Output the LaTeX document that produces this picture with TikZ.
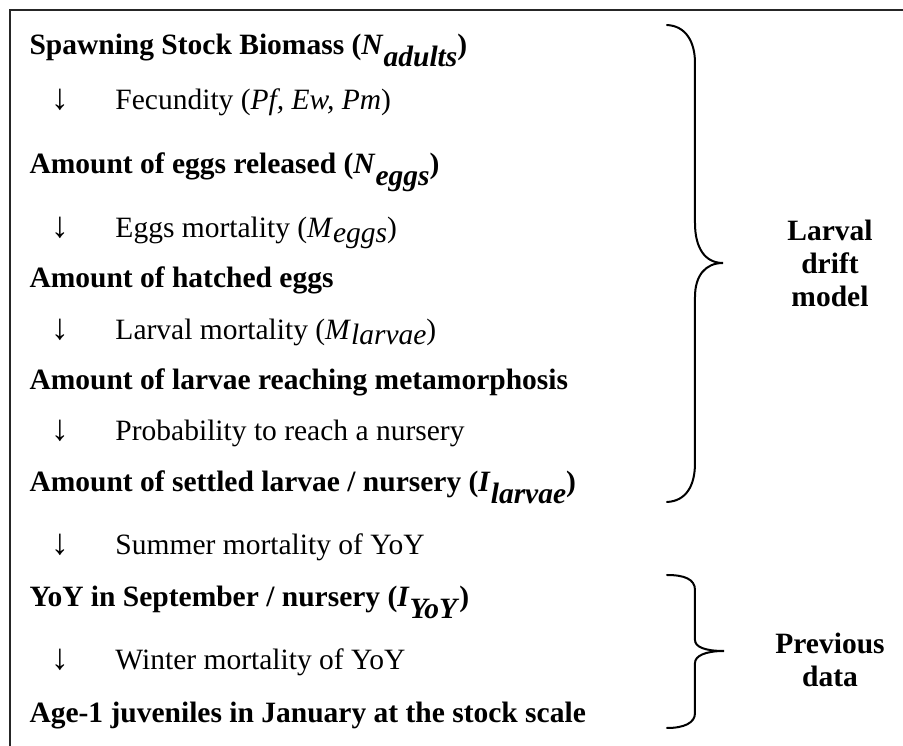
\documentclass[tikz,border=0pt]{standalone}
\usepackage{fontspec}
\setmainfont{Liberation Serif}
\newcommand{\sbold}[1]{\raisebox{-4.7pt}{\textit{#1}}}
\newcommand{\sreg}[1]{\raisebox{-2pt}{\textit{#1}}}

\begin{document}
\begin{tikzpicture}[x=0.4pt,y=-0.4pt,
    stage/.style={anchor=base west,inner sep=0pt,font=\fontsize{11.8}{14}\selectfont\bfseries},
    factor/.style={anchor=base west,inner sep=0pt,font=\fontsize{11.8}{14}\selectfont},
    downarr/.style={anchor=base,inner sep=0pt,font=\fontsize{14.5}{16}\selectfont},
    brace/.style={line width=0.8pt,line cap=round},
    side/.style={align=center,inner sep=0pt,font=\fontsize{11.8}{13.2}\selectfont\bfseries}]
            \useasboundingbox (0,0) rectangle (903,746);
            % Frame (cut at right and bottom)
            \draw[line width=0.9pt,black!85] (10,746) -- (10,10) -- (903,10);
            % Stages
            \node[stage] (biomass) at (29,55) {Spawning Stock Biomass (\textit{N}\sbold{adults})};
            \node[stage] (released) at (29,174) {Amount of eggs released (\textit{N}\sbold{eggs})};
            \node[stage] (hatched) at (29,288) {Amount of hatched eggs};
            \node[stage] (metamorph) at (29,390) {Amount of larvae reaching metamorphosis};
            \node[stage] (settled) at (29,492) {Amount of settled larvae / nursery (\textit{I}\sbold{larvae})};
            \node[stage] (yoysept) at (29,607) {YoY in September / nursery (\textit{I}\sbold{YoY})};
            \node[stage] (ageone) at (29,723) {Age-1 juveniles in January at the stock scale};
            % Arrows and factors
            \node[downarr] (arr1) at (60,110) {↓};
            \node[factor] (fecund) at (115,110) {Fecundity (\textit{Pf, Ew, Pm})};
            \node[downarr] (arr2) at (60,238) {↓};
            \node[factor] (eggmort) at (115,238) {Eggs mortality (\textit{M}\sreg{eggs})};
            \node[downarr] (arr3) at (60,340) {↓};
            \node[factor] (larvmort) at (115,340) {Larval mortality (\textit{M}\sreg{larvae})};
            \node[downarr] (arr4) at (60,441) {↓};
            \node[factor] (nursprob) at (115,441) {Probability to reach a nursery};
            \node[downarr] (arr5) at (60,555) {↓};
            \node[factor] (summort) at (115,555) {Summer mortality of YoY};
            \node[downarr] (arr6) at (60,670) {↓};
            \node[factor] (wintmort) at (115,670) {Winter mortality of YoY};
            % Braces
            \draw[brace] (667,25) .. controls (686,26) and (695,42) .. (695,63) -- (695,223)
                .. controls (695,248) and (705,263) .. (723,263)
                .. controls (705,263) and (695,276) .. (695,297) -- (695,463)
                .. controls (695,486) and (686,501) .. (667,502);
            \draw[brace] (667,575) .. controls (684,575) and (695,579) .. (695,590) -- (695,640)
                .. controls (695,647) and (705,651) .. (724,651)
                .. controls (705,651) and (695,656) .. (695,663) -- (695,713)
                .. controls (695,723) and (684,728) .. (667,728);
            % Brace labels
            \node[side] (larval) at (830,263) {Larval\\drift\\model};
            \node[side] (previous) at (830,660) {Previous\\data};
        \end{tikzpicture}
\end{document}
